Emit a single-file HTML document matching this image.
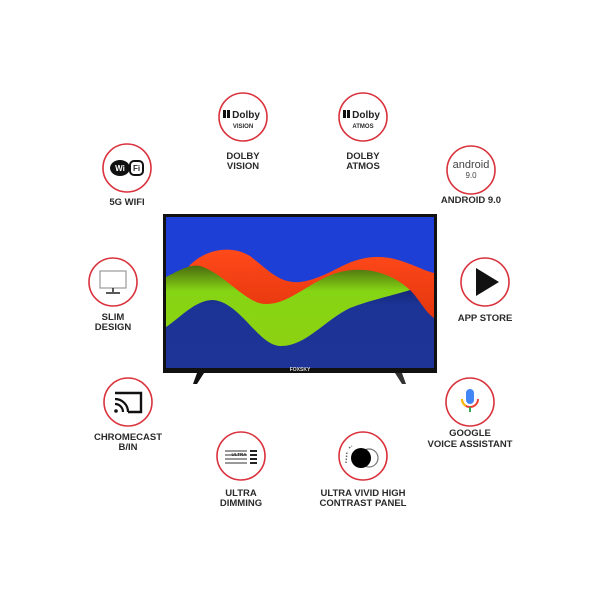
<!DOCTYPE html>
<html><head><style>
html,body{margin:0;padding:0;background:#fff;width:600px;height:600px;overflow:hidden}
text{font-family:"Liberation Sans",sans-serif;font-weight:bold;fill:#2a2a2a}
</style></head><body>
<svg width="600" height="600" viewBox="0 0 600 600" xmlns="http://www.w3.org/2000/svg">
<defs>
<clipPath id="scr"><rect x="166" y="217" width="268" height="151"/></clipPath>
<linearGradient id="rg" x1="0" y1="0" x2="0" y2="1"><stop offset="0" stop-color="#ff4a1a"/><stop offset="0.5" stop-color="#e8380f"/><stop offset="1" stop-color="#a02010"/></linearGradient>
<linearGradient id="gg" x1="0" y1="0" x2="0" y2="1"><stop offset="0" stop-color="#4a6a10"/><stop offset="0.25" stop-color="#86d514"/><stop offset="1" stop-color="#8fd010"/></linearGradient>
<linearGradient id="ng" x1="0" y1="0" x2="0" y2="1"><stop offset="0" stop-color="#14287a"/><stop offset="0.2" stop-color="#1c3496"/><stop offset="1" stop-color="#1e3597"/></linearGradient>
</defs>
<!-- TV -->
<rect x="163" y="214" width="274" height="159" fill="#111"/>
<g clip-path="url(#scr)">
<rect x="166" y="217" width="268" height="151" fill="#1e3fd6"/>
<path d="M166 300 L190 265 C205 250 230 244 250 256 C268 270 280 284 300 282 C330 278 345 258 375 257 C400 256 420 270 434 273 L434 368 L166 368 Z" fill="url(#rg)"/>
<path d="M166 277 C180 270 190 264 200 266 C225 274 245 303 265 304 C290 305 310 280 340 272 C365 266 390 272 410 290 L410 368 L166 368 Z" fill="url(#gg)"/>
<path d="M166 327 C180 318 195 300 213 300 C240 302 258 345 280 346 C305 347 325 320 350 308 C370 300 395 295 410 290 C420 300 425 312 434 318 L434 368 L166 368 Z" fill="url(#ng)"/>
</g>
<text x="300" y="371" font-size="5" text-anchor="middle" style="fill:#ddd">FOXSKY</text>
<path d="M197 373 L204 373 L197 384 L193 384 Z" fill="#111"/>
<path d="M395 373 L402 373 L406 384 L402 384 Z" fill="#333"/>
<!-- circles -->
<g fill="#fff" stroke="#d9323c" stroke-width="1.6">
<circle cx="127" cy="168" r="24"/>
<circle cx="243" cy="117" r="24"/>
<circle cx="363" cy="117" r="24"/>
<circle cx="471" cy="170" r="24"/>
<circle cx="113" cy="282" r="24"/>
<circle cx="485" cy="282" r="24"/>
<circle cx="128" cy="402" r="24"/>
<circle cx="470" cy="402" r="24"/>
<circle cx="241" cy="456" r="24"/>
<circle cx="363" cy="456" r="24"/>
</g>
<!-- icons -->
<ellipse cx="120" cy="168" rx="10" ry="8" fill="#111"/>
<text x="120" y="171" font-size="8" text-anchor="middle" style="fill:#fff">Wi</text>
<rect x="130" y="161" width="13" height="14" rx="4" fill="#fff" stroke="#111" stroke-width="2"/>
<text x="136.5" y="171" font-size="8" text-anchor="middle">Fi</text>
<path d="M223 110 h3 v8 h-3 z M227 110 h3 v8 h-3 z" fill="#111"/>
<text x="246" y="118" font-size="10" text-anchor="middle" style="fill:#222">Dolby</text>
<text x="243" y="128" font-size="6" text-anchor="middle">VISION</text>
<path d="M343 110 h3 v8 h-3 z M347 110 h3 v8 h-3 z" fill="#111"/>
<text x="366" y="118" font-size="10" text-anchor="middle" style="fill:#222">Dolby</text>
<text x="363" y="128" font-size="6" text-anchor="middle">ATMOS</text>
<text x="471" y="168" font-size="11" text-anchor="middle" style="font-weight:normal;fill:#444">android</text>
<text x="471" y="178" font-size="8" text-anchor="middle" style="font-weight:normal;fill:#444">9.0</text>
<rect x="100" y="271" width="26" height="17" fill="none" stroke="#999" stroke-width="1.2"/>
<path d="M113 288 V292 M106 293 H120" stroke="#222" stroke-width="1.5"/>
<path d="M476 268 L499 282 L476 296 Z" fill="#111"/>
<path d="M115 393 H141 V412 H128" fill="none" stroke="#111" stroke-width="2.4"/>
<path d="M115 399 A13 13 0 0 1 128 412 M115 404 A8 8 0 0 1 123 412" fill="none" stroke="#111" stroke-width="2.2"/>
<circle cx="116" cy="411" r="1.8" fill="#111"/>
<rect x="466" y="389" width="8" height="15" rx="4" fill="#4285f4"/>
<path d="M462 399 A8 8 0 0 0 478 399" fill="none" stroke="#ea4335" stroke-width="2"/>
<path d="M462 399 A8 8 0 0 0 466 406" fill="none" stroke="#fbbc05" stroke-width="2"/>
<rect x="469" y="407" width="2" height="5" fill="#34a853"/>
<g fill="#999"><rect x="225" y="450" width="22" height="2"/><rect x="225" y="454" width="22" height="2"/><rect x="225" y="458" width="22" height="2"/><rect x="225" y="462" width="22" height="2"/></g>
<g fill="#222"><rect x="250" y="450" width="7" height="2"/><rect x="250" y="454" width="7" height="2"/><rect x="250" y="458" width="7" height="2"/><rect x="250" y="462" width="7" height="2"/></g>
<text x="239" y="456" font-size="4.5" text-anchor="middle">ULTRA</text>
<circle cx="369" cy="458" r="9" fill="none" stroke="#777" stroke-width="1.2"/>
<circle cx="361" cy="458" r="10" fill="#000"/>
<path d="M346 463 L347 451 M349 448 L352 446" stroke="#666" stroke-width="1.5" stroke-dasharray="1.5 1.5" fill="none"/>
<!-- labels -->
<g font-size="9.5" text-anchor="middle">
<text x="127" y="205">5G WIFI</text>
<text x="243" y="159">DOLBY</text><text x="243" y="169">VISION</text>
<text x="363" y="159">DOLBY</text><text x="363" y="169">ATMOS</text>
<text x="471" y="203">ANDROID 9.0</text>
<text x="113" y="320">SLIM</text><text x="113" y="330">DESIGN</text>
<text x="485" y="321">APP STORE</text>
<text x="128" y="440">CHROMECAST</text><text x="128" y="450">B/IN</text>
<text x="470" y="436">GOOGLE</text><text x="470" y="447">VOICE ASSISTANT</text>
<text x="241" y="496">ULTRA</text><text x="241" y="506">DIMMING</text>
<text x="363" y="496">ULTRA VIVID HIGH</text><text x="363" y="506">CONTRAST PANEL</text>
</g>
</svg>
</body></html>
